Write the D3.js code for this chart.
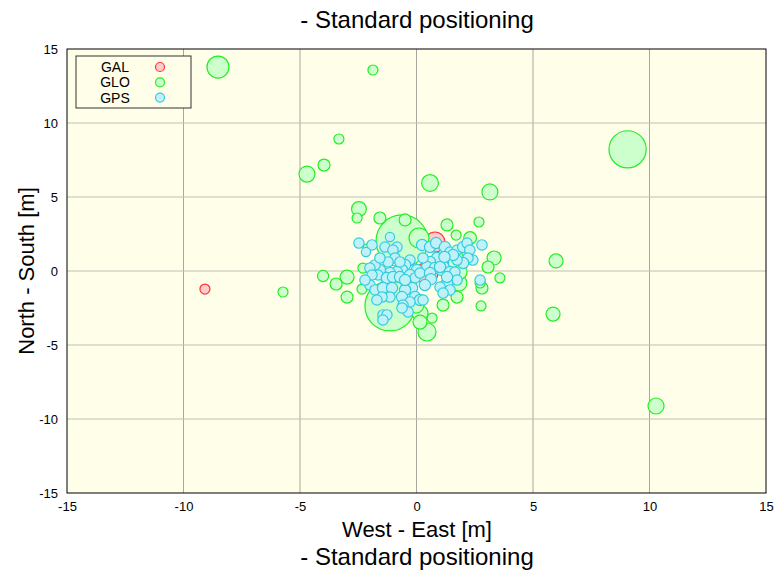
<!DOCTYPE html>
<html>
<head>
<meta charset="utf-8">
<script src="https://cdn.jsdelivr.net/npm/d3@7"></script>
<style>
  body { margin: 0; background: #fff; }
  text { font-family: "Liberation Sans", Arial, sans-serif; }
</style>
</head>
<body>
<svg id="chart" width="777" height="575"></svg>
<script>
// DATA - east / north error [m] and marker size per fix

var ticks = [-15, -10, -5, 0, 5, 10, 15];

var galX = [-9.08, 0.79, 0.45];
var galY = [-1.22, 1.96, -0.14];
var galSize = [2.5, 5, 5.5];

var gloX = [-0.62, -1.14, 9.06, 1.52, -8.52, 0.11, 0.45, 0.58, -4.70, 3.15, 10.28, 0.15, 1.82, -0.02,
            -2.47, 3.33, 5.99, 5.86, -2.98, 0.15, 1.87, 2.30, -3.97, -1.57, -0.49, 1.31, -3.45, 3.07,
            2.81, -2.98, 1.14, 1.74, -4.01, -3.33, -1.87, -2.55, 2.68, 1.70, 3.58, 2.77, -5.73,
            -2.34, 0.67, 2.73, -2.30, -2.12];
var gloY = [2.03, -2.36, 8.22, 0.61, 13.78, 2.23, -4.12, 5.95, 6.55, 5.34, -9.12, -2.84, -0.81, -2.30,
            4.19, 0.88, 0.68, -2.91, -0.41, -3.45, -0.07, 2.23, 7.16, 3.58, 3.45, 3.11, -0.88, 0.27,
            -1.15, -1.76, -2.30, -1.76, -0.34, 8.92, 13.58, 3.58, 3.31, 2.43, -0.47, -2.36, -1.42,
            -1.22, -3.18, -0.81, 0.20, 1.55];
var gloSize = [13, 12.5, 9.3, 6.5, 5.5, 5, 4.5, 4.2, 4, 4, 4, 4, 4, 4,
               3.7, 3.5, 3.5, 3.5, 3.5, 3.5, 3.5, 3.2, 3, 3, 3, 3, 3, 3,
               3, 3, 3, 3, 2.8, 2.5, 2.5, 2.5, 2.5, 2.5, 2.5, 2.5, 2.5,
               2.5, 2.5, 2.5, 2.5, 2];

var gpsX = [-2.47, -1.91, -2.17, -1.14, -1.35, -0.84, -1.01, 0.24, 0.58, 0.84, 1.22, 1.44, 1.74, 2.00,
            2.17, 2.29, 2.81, 2.73, 2.42, 2.21, 2.00, 1.74, 1.57, 1.14, 1.09, 0.88, 0.58, 0.45,
            0.79, 1.01, 0.28, 0.02, -0.28, -0.49, -0.62, -0.84, -1.14, -1.35, -1.57, -1.78, -2.00,
            -1.65, -1.91, -1.27, -1.01, -0.71, -0.28, -0.06, 0.15, 1.44, 1.65, 1.74, 1.31, 1.01,
            1.44, 1.14, -2.00, -1.78, -1.44, -1.05, -1.14, -1.48, -1.70, -0.41, -0.19, -0.49, -0.62,
            -0.06, 0.15, 0.28, -0.28, -0.58, -0.36, -0.62, -1.44, -1.27, -1.44, -0.49, 0.58, 1.31,
            -0.92, -1.22, -1.57, -0.71, -2.21, 0.62, 0.36, 1.20];
var gpsY = [1.89, 1.76, 1.28, 2.30, 1.62, 1.62, 1.42, 1.76, 1.62, 1.89, 1.62, 1.28, 1.42, 1.62,
            1.89, 1.42, 1.76, -0.61, 0.74, 0.88, 0.54, 0.74, 1.08, 0.61, 0.20, 0.88, 0.61, 0.27,
            0.20, 0.27, 0.88, 0.07, 0.74, 0.41, 0.07, -0.07, -0.14, -0.41, 0.07, 0.41, 0.20,
            -0.27, -0.27, -0.47, -0.41, -0.41, -0.27, -0.47, -0.14, -0.07, -0.07, -0.61, -0.81, -1.08,
            -1.28, -1.49, -0.95, -1.28, -1.15, -1.15, -1.76, -1.76, -1.96, -0.95, -1.15, -1.28, -1.76,
            -1.76, -1.96, -1.96, -2.09, -2.30, -2.77, -2.50, -2.97, -2.97, -3.31, -0.61, -0.14, -0.41,
            0.88, 0.61, 0.88, 0.61, -0.61, -0.55, -0.95, 0.95];
var gpsSize = [2.6, 2.6, 2.3, 2.3, 2.6, 2.6, 2.6, 2.8, 2.8, 2.8, 2.8, 2.6, 2.6, 2.8,
               2.6, 2.6, 2.6, 2.6, 2.6, 2.6, 2.8, 2.6, 2.8, 2.8, 3.8, 2.8, 2.8, 2.8,
               2.8, 2.8, 2.6, 2.8, 2.6, 2.8, 2.8, 2.8, 2.8, 2.6, 2.8, 2.6, 2.6,
               2.6, 2.6, 2.8, 2.8, 2.8, 2.8, 2.6, 2.6, 2.8, 2.6, 2.6, 2.8, 2.6,
               2.6, 2.6, 2.6, 2.6, 2.8, 2.8, 2.6, 2.6, 2.6, 2.8, 2.8, 2.8, 2.8,
               2.8, 2.8, 2.6, 2.6, 2.6, 2.6, 2.6, 2.6, 2.6, 2.6, 2.8, 2.8, 2.8,
               2.6, 2.6, 2.6, 2.6, 2.6, 2.8, 2.8, 2.8];

var systems = ["GAL", "GLO", "GPS"];
var fills = ["#ffcccc", "#ccffcc", "#bff2f8"];
var strokes = ["#ff3333", "#22ee22", "#33ccdd"];

// CHART

var svg = d3.select("#chart");
var pl = 67, pr = 766, pt = 49, pb = 493;

var x = d3.scaleLinear().domain([-15, 15]).range([pl, pr]);
var y = d3.scaleLinear().domain([-15, 15]).range([pb, pt]);
var r = d3.scaleLinear().domain([0, 10]).range([0, 20]);

svg.append("rect")
    .attr("x", pl).attr("y", pt)
    .attr("width", pr - pl).attr("height", pb - pt)
    .attr("fill", "#fefee9");

// grid
svg.append("g").selectAll("line").data(ticks.slice(1, -1)).enter().append("line")
    .attr("x1", function(d) { return x(d); }).attr("x2", function(d) { return x(d); })
    .attr("y1", pt).attr("y2", pb)
    .attr("stroke", "#a8a8a0").attr("stroke-width", 1);
svg.append("g").selectAll("line").data(ticks.slice(1, -1)).enter().append("line")
    .attr("y1", function(d) { return y(d); }).attr("y2", function(d) { return y(d); })
    .attr("x1", pl).attr("x2", pr)
    .attr("stroke", "#c0c0b4").attr("stroke-width", 1);

function zip(xs, ys, ss) {
    var out = [];
    for (var i = 0; i < xs.length; i++) out.push({x: xs[i], y: ys[i], s: ss[i]});
    return out;
}

var sets = [zip(galX, galY, galSize), zip(gloX, gloY, gloSize), zip(gpsX, gpsY, gpsSize)];

sets.forEach(function(pts, k) {
    svg.append("g").selectAll("circle").data(pts).enter().append("circle")
        .attr("cx", function(d) { return x(d.x); })
        .attr("cy", function(d) { return y(d.y); })
        .attr("r", function(d) { return r(d.s); })
        .attr("fill", fills[k])
        .attr("stroke", strokes[k])
        .attr("stroke-width", 1.2);
});

// frame
svg.append("rect")
    .attr("x", pl).attr("y", pt)
    .attr("width", pr - pl).attr("height", pb - pt)
    .attr("fill", "none").attr("stroke", "#000").attr("stroke-width", 1);

// axes
var fmt = function(d) { return String(d); };
var xAxis = svg.append("g")
    .attr("transform", "translate(0," + pb + ")")
    .call(d3.axisBottom(x).tickValues(ticks).tickSize(0).tickPadding(9).tickFormat(fmt));
var yAxis = svg.append("g")
    .attr("transform", "translate(" + pl + ",0)")
    .call(d3.axisLeft(y).tickValues(ticks).tickSize(0).tickPadding(9).tickFormat(fmt));
[xAxis, yAxis].forEach(function(a) {
    a.select(".domain").remove();
    a.selectAll("text").attr("font-size", 13).attr("fill", "#000")
        .style("font-family", "'Liberation Sans', Arial, sans-serif");
});

// titles
svg.append("text").attr("x", 417).attr("y", 28).attr("text-anchor", "middle")
    .attr("font-size", 24).text("- Standard positioning");
svg.append("text").attr("x", 417).attr("y", 537).attr("text-anchor", "middle")
    .attr("font-size", 22).text("West - East [m]");
svg.append("text").attr("x", 417).attr("y", 565).attr("text-anchor", "middle")
    .attr("font-size", 24).text("- Standard positioning");
svg.append("text").attr("transform", "translate(34,271) rotate(-90)").attr("text-anchor", "middle")
    .attr("font-size", 22).text("North - South [m]");

// legend
var lg = svg.append("g");
lg.append("rect").attr("x", 76).attr("y", 56).attr("width", 115).attr("height", 52)
    .attr("fill", "#fefee9").attr("stroke", "#333").attr("stroke-width", 1);
systems.forEach(function(s, i) {
    lg.append("text").attr("x", 115).attr("y", 72 + i * 15.3).attr("text-anchor", "middle")
        .attr("font-size", 14).text(s);
    lg.append("circle").attr("cx", 160).attr("cy", 67 + i * 15.3).attr("r", 4.5)
        .attr("fill", fills[i]).attr("stroke", strokes[i]).attr("stroke-width", 1.2);
});
</script>
</body>
</html>
